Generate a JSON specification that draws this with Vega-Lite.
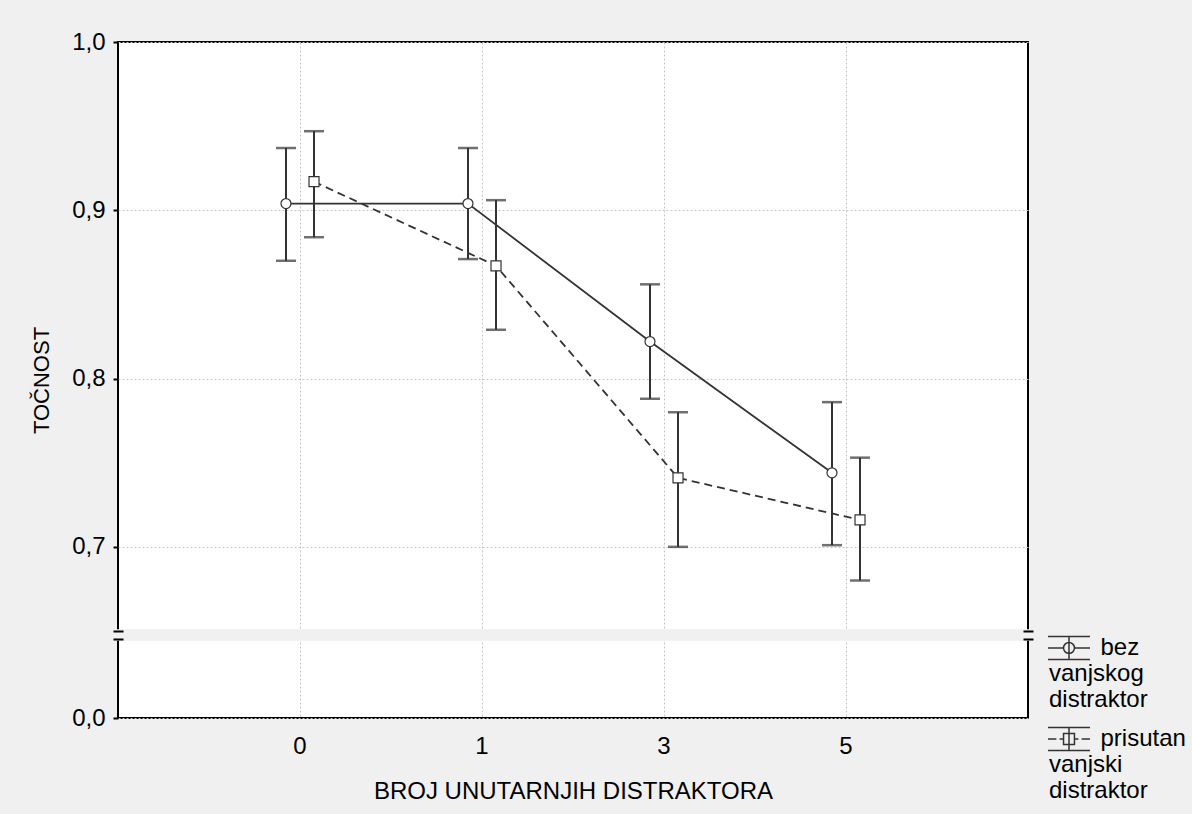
{
  "$schema": "https://vega.github.io/schema/vega-lite/v6.json",
  "width": 910,
  "height": 676,
  "autosize": {"type": "none"},
  "padding": {"left": 118, "top": 42, "right": 164, "bottom": 96},
  "background": "#f0f0f0",
  "config": {
    "font": "Liberation Sans",
    "view": {"fill": "white", "stroke": "black", "strokeWidth": 2},
    "axis": {"labelColor": "black", "titleColor": "black", "titleFontWeight": "normal", "labelFont": "Liberation Sans", "titleFont": "Liberation Sans"}
  },
  "datasets": {
    "acc": [
      {"broj": "0", "grupa": "bez vanjskog distraktor", "mean": 0.904, "lo": 0.870, "hi": 0.937},
      {"broj": "1", "grupa": "bez vanjskog distraktor", "mean": 0.904, "lo": 0.871, "hi": 0.937},
      {"broj": "3", "grupa": "bez vanjskog distraktor", "mean": 0.822, "lo": 0.788, "hi": 0.856},
      {"broj": "5", "grupa": "bez vanjskog distraktor", "mean": 0.744, "lo": 0.701, "hi": 0.786},
      {"broj": "0", "grupa": "prisutan vanjski distraktor", "mean": 0.917, "lo": 0.884, "hi": 0.947},
      {"broj": "1", "grupa": "prisutan vanjski distraktor", "mean": 0.867, "lo": 0.829, "hi": 0.906},
      {"broj": "3", "grupa": "prisutan vanjski distraktor", "mean": 0.741, "lo": 0.700, "hi": 0.780},
      {"broj": "5", "grupa": "prisutan vanjski distraktor", "mean": 0.716, "lo": 0.680, "hi": 0.753}
    ],
    "brk": [{"lo": 0.6, "hi": 0.65}]
  },
  "resolve": {"axis": {"y": "independent"}, "scale": {"shape": "independent"}},
  "layer": [
    {
      "data": {"name": "brk"},
      "mark": {"type": "rect", "fill": "#f0f0f0", "stroke": "#f0f0f0", "strokeWidth": 3},
      "encoding": {
        "y": {"field": "lo", "type": "quantitative", "scale": {"type": "linear", "domain": [0, 0.6, 0.65, 1], "range": [676, 597, 589, 0], "zero": false, "nice": false},
          "axis": {"orient": "left", "values": [0.6, 0.65], "labels": false, "domain": false, "grid": false, "ticks": true, "tickSize": 10, "offset": -5, "tickWidth": 2, "tickColor": "black", "title": null, "zindex": 1}},
        "y2": {"field": "hi"}
      }
    },
    {
      "data": {"name": "brk"},
      "mark": {"type": "rect", "fill": "#f0f0f0", "stroke": "#f0f0f0", "strokeWidth": 3},
      "encoding": {
        "y": {"field": "lo", "type": "quantitative",
          "axis": {"orient": "right", "values": [0.6, 0.65], "labels": false, "domain": false, "grid": false, "ticks": true, "tickSize": 10, "offset": -5, "tickWidth": 2, "tickColor": "black", "title": null, "zindex": 1}},
        "y2": {"field": "hi"}
      }
    },
    {
      "data": {"name": "acc"},
      "mark": {"type": "rule", "color": "#333333", "strokeWidth": 2},
      "encoding": {
        "x": {"field": "broj", "type": "ordinal", "sort": ["0", "1", "3", "5"],
          "scale": {"type": "band", "paddingInner": 0.846, "paddingOuter": 0.923},
          "axis": {"title": "BROJ UNUTARNJIH DISTRAKTORA", "titleFontSize": 24, "titlePadding": 21, "labelFontSize": 24, "labelPadding": 16, "labelAngle": 0, "ticks": false, "tickSize": 0, "domain": false, "grid": true, "gridColor": "#c4c4c4", "gridDash": [2, 2], "bandPosition": 0.5}},
        "xOffset": {"field": "grupa", "type": "nominal", "scale": {"type": "point", "padding": 0}},
        "y": {"field": "lo", "type": "quantitative",
          "axis": {"orient": "left", "values": [0, 0.7, 0.8, 0.9, 1], "labelExpr": "replace(format(datum.value, '.1f'), '.', ',')", "labelFontSize": 24, "labelPadding": 8, "tickSize": 5, "tickWidth": 2, "tickColor": "black", "domain": false, "grid": true, "gridColor": "#c4c4c4", "gridDash": [2, 2], "title": "TOČNOST", "titleFontSize": 22, "titlePadding": 18}},
        "y2": {"field": "hi"}
      }
    },
    {
      "data": {"name": "acc"},
      "mark": {"type": "tick", "color": "#333333", "thickness": 2.5, "size": 20, "orient": "horizontal"},
      "encoding": {
        "x": {"field": "broj", "type": "ordinal", "sort": ["0", "1", "3", "5"]},
        "xOffset": {"field": "grupa", "type": "nominal"},
        "y": {"field": "lo", "type": "quantitative", "axis": null}
      }
    },
    {
      "data": {"name": "acc"},
      "mark": {"type": "tick", "color": "#333333", "thickness": 2.5, "size": 20, "orient": "horizontal"},
      "encoding": {
        "x": {"field": "broj", "type": "ordinal", "sort": ["0", "1", "3", "5"]},
        "xOffset": {"field": "grupa", "type": "nominal"},
        "y": {"field": "hi", "type": "quantitative", "axis": null}
      }
    },
    {
      "data": {"name": "acc"},
      "transform": [{"filter": "datum.grupa == 'bez vanjskog distraktor'"}],
      "mark": {"type": "line", "color": "#333333", "strokeWidth": 1.8},
      "encoding": {
        "x": {"field": "broj", "type": "ordinal", "sort": ["0", "1", "3", "5"]},
        "xOffset": {"field": "grupa", "type": "nominal"},
        "y": {"field": "mean", "type": "quantitative", "axis": null}
      }
    },
    {
      "data": {"name": "acc"},
      "transform": [{"filter": "datum.grupa == 'prisutan vanjski distraktor'"}],
      "mark": {"type": "line", "color": "#333333", "strokeWidth": 1.8, "strokeDash": [8, 5]},
      "encoding": {
        "x": {"field": "broj", "type": "ordinal", "sort": ["0", "1", "3", "5"]},
        "xOffset": {"field": "grupa", "type": "nominal"},
        "y": {"field": "mean", "type": "quantitative", "axis": null}
      }
    },
    {
      "data": {"name": "acc"},
      "mark": {"type": "point", "filled": false, "fill": "white", "fillOpacity": 1, "stroke": "#333333", "strokeWidth": 1.2, "size": 100, "opacity": 1},
      "encoding": {
        "x": {"field": "broj", "type": "ordinal", "sort": ["0", "1", "3", "5"]},
        "xOffset": {"field": "grupa", "type": "nominal"},
        "y": {"field": "mean", "type": "quantitative", "axis": null},
        "shape": {"field": "grupa", "type": "nominal",
          "scale": {"domain": ["bez vanjskog distraktor", "prisutan vanjski distraktor"], "range": ["circle", "square"]},
          "legend": null}
      }
    },
    {
      "data": {"name": "acc"},
      "mark": {"type": "point", "filled": false, "stroke": "#333333", "strokeWidth": 1.5, "size": 10, "opacity": 0},
      "encoding": {
        "x": {"field": "broj", "type": "ordinal", "sort": ["0", "1", "3", "5"]},
        "xOffset": {"field": "grupa", "type": "nominal"},
        "y": {"field": "mean", "type": "quantitative", "axis": null},
        "shape": {"field": "grupa", "type": "nominal",
          "scale": {"domain": ["bez vanjskog distraktor", "prisutan vanjski distraktor"],
            "range": ["M-1,-0.55H1M-1,0.55H1M0,-0.55V0.55M-1,0H-0.26M0.26,0H1M-0.26,0A0.26,0.26 0 1,1 0.26,0A0.26,0.26 0 1,1 -0.26,0", "M-1,-0.55H1M-1,0.55H1M0,-0.55V0.55M-1,0H-0.6M-0.45,0H-0.26M0.26,0H0.45M0.6,0H1M-0.26,-0.26H0.26V0.26H-0.26Z"]},
          "legend": {"orient": "none", "legendX": 929, "legendY": 584, "title": null, "padding": 0,
            "symbolSize": 1764, "symbolStrokeColor": "#333333", "symbolStrokeWidth": 1.5, "symbolFillColor": "transparent", "symbolOpacity": 1,
            "labelFont": "Liberation Sans", "labelFontSize": 24, "labelColor": "black", "labelOffset": -42, "labelLimit": 300, "rowPadding": 5,
            "labelExpr": "datum.label == 'bez vanjskog distraktor' ? ['\u200b\u00a0\u00a0\u00a0\u00a0\u00a0\u00a0\u00a0\u2009bez', 'vanjskog', 'distraktor'] : ['\u200b\u00a0\u00a0\u00a0\u00a0\u00a0\u00a0\u00a0\u2009prisutan', 'vanjski', 'distraktor']",
            "encode": {
              "labels": {"update": {"dy": {"value": 32}}}
            }
          }
        }
      }
    }
  ]
}
